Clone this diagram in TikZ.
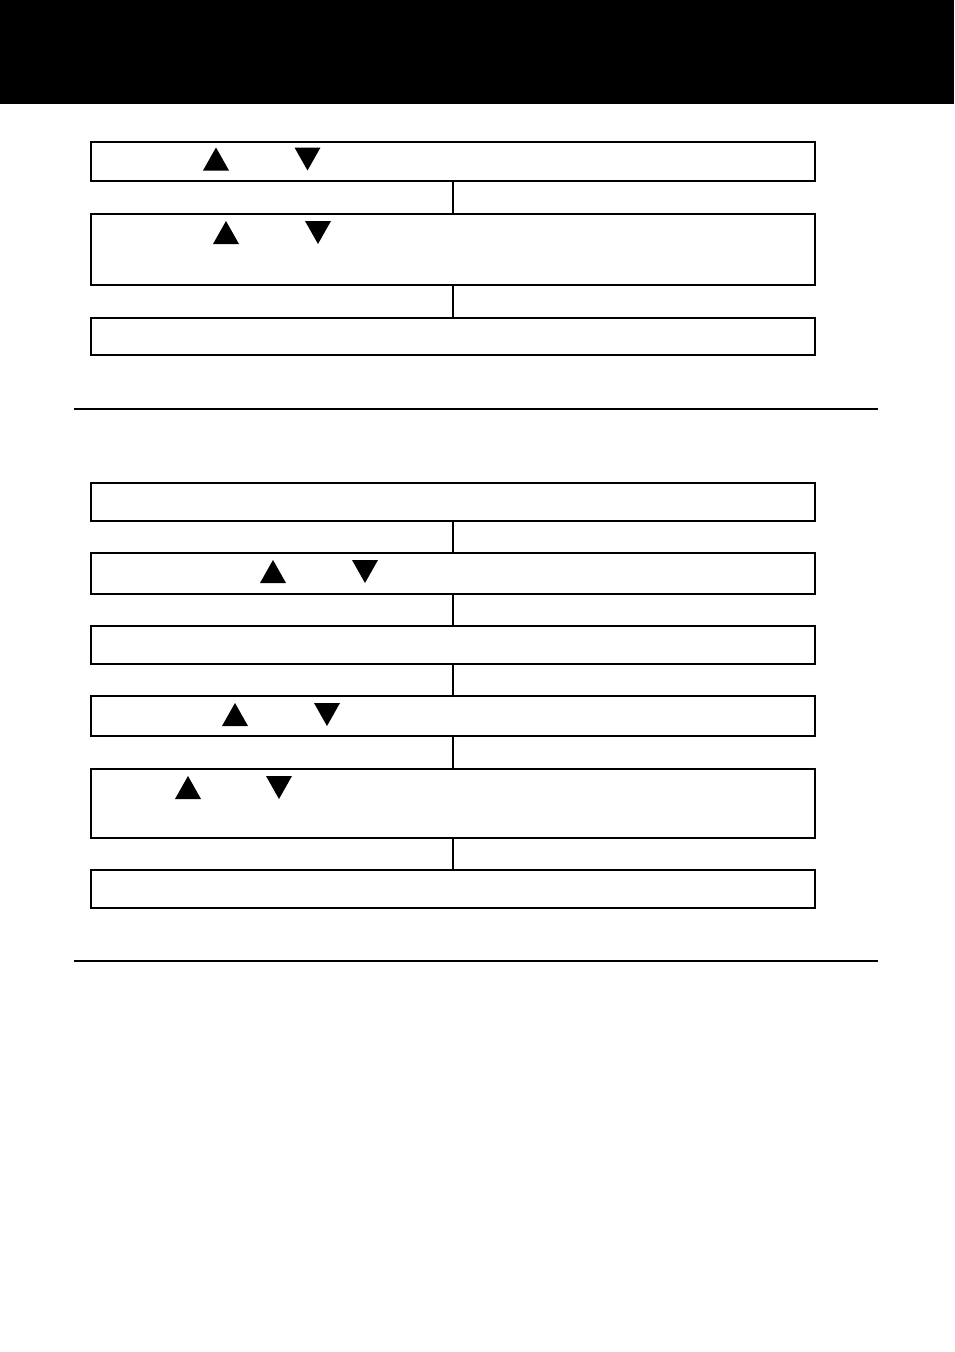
\documentclass[tikz,border=0pt]{standalone}
\usepackage{tikz}
\usetikzlibrary{positioning}

\newcommand{\uptri}[2]{\fill (#1-13,#2+11.5) -- (#1+13,#2+11.5) -- (#1,#2-11.5) -- cycle;}
\newcommand{\dntri}[2]{\fill (#1-13,#2-11.5) -- (#1+13,#2-11.5) -- (#1,#2+11.5) -- cycle;}

\begin{document}
\begin{tikzpicture}[
x=1pt, y=-1pt,
stepbox/.style={
	draw,
	rectangle,
	line width=1.2pt,
	minimum width=724pt,
	inner sep=0pt
},
link/.style={
	line width=1.2pt
}
]

\fill[white] (0,0) rectangle (954,1352);
\useasboundingbox (0,0) rectangle (954,1352);

% banner
\fill[black] (0,0) rectangle (954,104);

% first sequence
\node[stepbox, minimum height=39pt] at (453, 161.5)
(a1) {};
\node[stepbox, minimum height=71pt] at (453, 249.5)
(a2) {};
\node[stepbox, minimum height=37pt] at (453, 336.5)
(a3) {};

\draw[link] (a1) -- (a2);
\draw[link] (a2) -- (a3);

\uptri{216}{159}
\dntri{307.5}{159}
\uptri{226}{232.5}
\dntri{318}{232.5}

\coordinate (r1l) at (74, 409);
\coordinate (r1r) at (878, 409);
\draw[link] (r1l) -- (r1r);

% second sequence
\node[stepbox, minimum height=38pt] at (453, 502)
(b1) {};
\node[stepbox, minimum height=41pt] at (453, 573.5)
(b2) {};
\node[stepbox, minimum height=38pt] at (453, 645)
(b3) {};
\node[stepbox, minimum height=40pt] at (453, 716)
(b4) {};
\node[stepbox, minimum height=69pt] at (453, 803.5)
(b5) {};
\node[stepbox, minimum height=38pt] at (453, 889)
(b6) {};

\draw[link] (b1) -- (b2);
\draw[link] (b2) -- (b3);
\draw[link] (b3) -- (b4);
\draw[link] (b4) -- (b5);
\draw[link] (b5) -- (b6);

\uptri{273}{571.5}
\dntri{365}{571.5}
\uptri{235}{714.5}
\dntri{327}{714.5}
\uptri{188}{787.5}
\dntri{279}{787.5}

\coordinate (r2l) at (74, 961);
\coordinate (r2r) at (878, 961);
\draw[link] (r2l) -- (r2r);

\end{tikzpicture}
\end{document}
